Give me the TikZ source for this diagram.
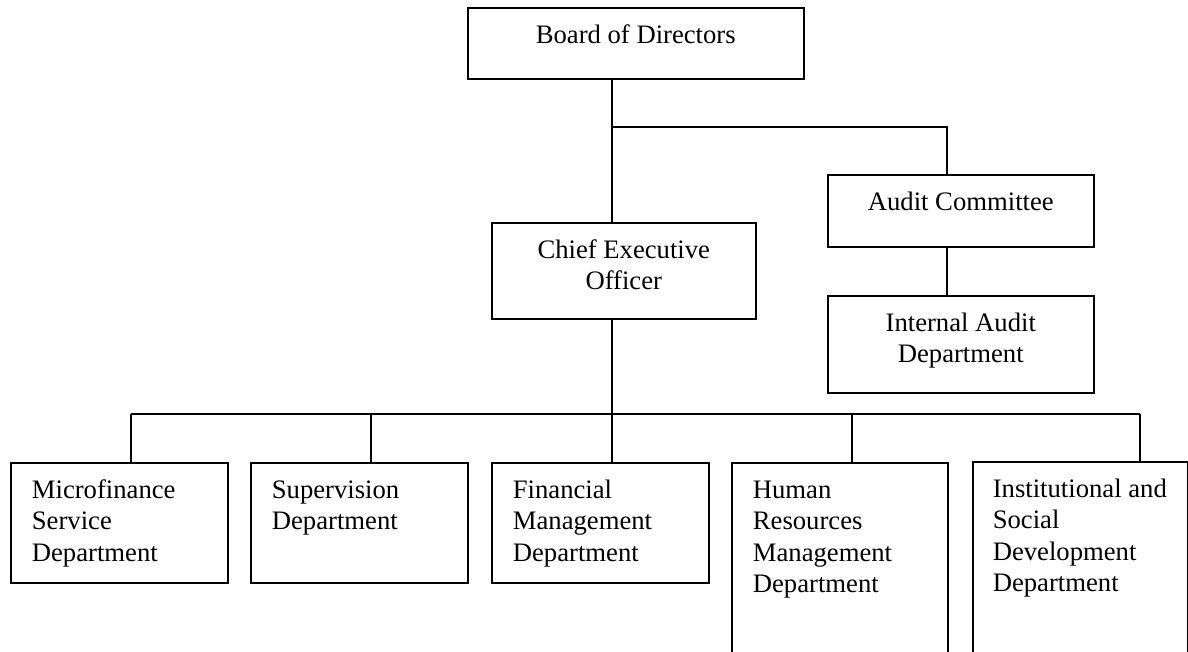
\documentclass[tikz,border=0pt]{standalone}
\usepackage{fontspec}
\setmainfont{Liberation Serif}
% 框内文字：固定宽高，文字靠上
\newcommand{\boxtext}[3]{\parbox[c][#2][t]{#1}{\vspace*{6.4pt}\strut\raggedright #3}}

\begin{document}
\begin{tikzpicture}[
            x=0.45pt, y=-0.45pt,
            line width=0.7pt,
            box/.style={draw, inner xsep=9.5pt, inner ysep=0pt, anchor=north west,
                        font=\fontsize{12}{14}\selectfont},
        ]
            \useasboundingbox (0,0) rectangle (1188,652);
            \clip (0,0) rectangle (1188,652);

            % 上层各框
            \node[box] (board) at (467,7) {\boxtext{132.2pt}{31.95pt}{\centering Board of Directors}};
            \node[box] (ceo) at (491,222) {\boxtext{99.8pt}{43.2pt}{\centering Chief Executive\\ Officer}};
            \node[box] (audit) at (827,174) {\boxtext{100.7pt}{32.4pt}{\centering Audit Committee}};
            \node[box] (internal) at (827,295) {\boxtext{100.7pt}{43.65pt}{\centering Internal Audit\\ Department}};

            % 下层各部门
            \node[box] (micro) at (10,462) {\boxtext{78.65pt}{54pt}{Microfinance\\ Service\\ Department}};
            \node[box] (superv) at (250,462) {\boxtext{78.65pt}{54pt}{Supervision\\ Department}};
            \node[box] (fin) at (491,462) {\boxtext{78.65pt}{54pt}{Financial\\ Management\\ Department}};
            \node[box] (hr) at (731,462) {\boxtext{78.2pt}{108pt}{Human\\ Resources\\ Management\\ Department}};
            \node[box, inner xsep=9pt] (inst) at (972,461) {\boxtext{78.75pt}{108pt}{Institutional and\\ Social\\ Development\\ Department}};

            % 连线用的折点
            \coordinate (split) at (612,127);
            \coordinate (auditline) at (947,127);
            \coordinate (bus) at (612,414);
            \coordinate (d1) at (131,414);
            \coordinate (d2) at (371,414);
            \coordinate (d4) at (852,414);
            \coordinate (d5) at (1140,414);

            \draw (board.south -| split) -- (ceo.north -| split);
            \draw (split) -- (auditline) -- (audit.north -| auditline);
            \draw (audit.south -| auditline) -- (internal.north -| auditline);
            \draw (ceo.south -| bus) -- (bus);

            % 横线及各部门竖线
            \draw (d1) -- (d5);
            \draw (d1) -- (micro.north -| d1);
            \draw (d2) -- (superv.north -| d2);
            \draw (bus) -- (fin.north -| bus);
            \draw (d4) -- (hr.north -| d4);
            \draw (d5) -- (inst.north -| d5);

        \end{tikzpicture}
\end{document}
